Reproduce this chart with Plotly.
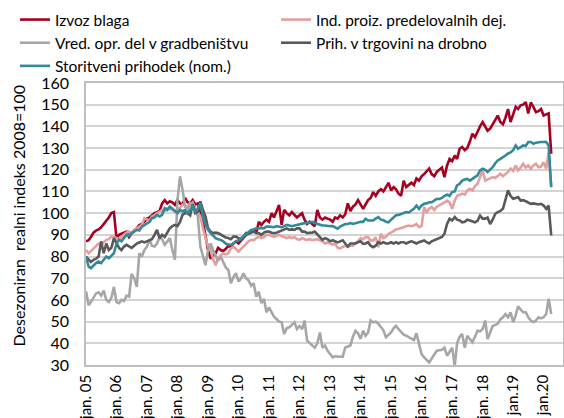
import pandas as pd
import plotly.graph_objects as go

dates = pd.date_range("2005-01-01", periods=184, freq="MS")

izvoz_blaga = [
    87, 87.5, 89, 91, 92, 92.5, 93.5, 95, 96, 98, 100, 100.5,
    88.5, 90, 90.5, 91, 91.5, 89, 90.5, 92, 93, 94.5, 95, 96,
    97.5, 98, 99, 100, 100.5, 101, 104.5, 106, 104.5, 105.5, 105, 103.8,
    106, 104.5, 104, 107, 105, 104.5, 106, 104, 104.5, 101, 96, 89,
    83, 79, 80, 81.5, 84, 83, 82.5, 83.5, 85, 84.5, 86, 87,
    86, 87.5, 88.5, 90, 90.8, 92, 92.3, 91, 96, 94.6, 96, 97,
    96, 100, 98, 101, 103.8, 94.6, 101.5, 100, 99, 100.5, 99, 98,
    99, 100, 97, 95, 96, 95, 94, 101.5, 98, 97, 98, 97.5,
    97, 96, 98, 97.5, 99, 98, 99.5, 104.5, 101, 103, 104, 106,
    104, 102, 104, 106, 107, 109.7, 108, 110, 111, 110, 112, 114,
    110.5, 112, 111, 109, 108, 115, 112, 113, 114, 113, 116, 115,
    117, 118, 119, 120.5, 118, 117, 119, 120, 121, 116.6, 122, 125,
    124, 126.6, 125, 129.7, 130.5, 129, 130, 133, 136.6, 135, 138, 140,
    142, 140, 138, 139, 141, 143, 145, 142, 141, 144, 148, 142,
    146, 149, 148, 149.7, 150, 151.2, 146, 151, 149, 146.6, 147, 148,
    145, 145.5, 146, 127.4,
]

ind_proiz = [
    83, 81.5, 82.5, 83.8, 85, 86, 85.5, 86.5, 87.7, 88, 89.2, 89,
    88.5, 88, 89, 90, 91, 91.5, 90.5, 92, 93, 94, 94.6, 97.7,
    97, 96.5, 98.5, 99, 100, 100.5, 101.5, 101, 102.3, 102, 101.5, 100.8,
    101.5, 102.5, 104, 103.5, 103, 104.6, 103.5, 102.3, 100, 98.5, 93, 89.2,
    84.6, 83, 79, 76, 79.2, 80.5, 81.5, 81, 81.5, 83.8, 84.6, 83.5,
    82.3, 83.5, 84.6, 86, 87, 87.7, 87.5, 88.5, 89.2, 88.5, 89, 90,
    90, 89.5, 89.2, 89.5, 90, 89.5, 89, 88.5, 89, 88.5, 89, 88,
    87.7, 88.5, 88, 87.7, 88, 87.5, 87.7, 88, 87.5, 87, 86, 86.5,
    86, 85.5, 86, 84, 83.8, 84.5, 85, 84.5, 85, 85, 86, 87,
    88.5, 88, 89, 88.9, 87.4, 87.4, 88.9, 84.3, 90.5, 88.5, 89, 90.5,
    91, 92, 92.5, 92.8, 93, 93.5, 94, 94.3, 94, 94.3, 95, 93.5,
    94, 102.8, 100.5, 102, 102.8, 101.5, 103, 103.5, 104.3, 105, 105.8, 105,
    102, 105.8, 108, 108.5, 109, 108.5, 110.5, 111.2, 110.5, 112.5, 113.5, 116.6,
    119.7, 115, 115.5, 115.8, 116.6, 116.2, 117, 118.2, 117, 118, 119, 120.5,
    119.5, 122, 119.7, 121, 122.8, 121, 122, 120.5, 122, 122.8, 121.2, 121.5,
    123.5, 120.5, 128, 112,
]

vred_gradb = [
    64, 57.5, 59, 61, 63, 63.5, 62, 64.3, 60, 59, 61, 66,
    59, 58.5, 60, 59.5, 62, 61.5, 72, 70, 66, 81.5, 80, 83,
    84.6, 87.7, 85, 84.6, 86, 89, 88, 85.4, 87, 88.5, 83, 78.5,
    106, 117, 110.8, 103, 102, 104, 105, 101.5, 98.5, 84.6, 80, 76,
    83, 86, 83, 80.5, 78, 80, 77.7, 75, 73.8, 67.7, 70.5, 72.3,
    68.5, 70, 72.3, 70, 69, 66.5, 67.7, 61.5, 63.8, 58.5, 60.5, 54.3,
    56.6, 54.6, 52.3, 51.2, 50, 49.7, 44.3, 47, 47.4, 48.5, 49.7, 46.6,
    48, 46.5, 50.5, 41.2, 40, 39, 38, 40, 45, 38, 39, 36.6,
    35, 33.5, 34, 33.8, 33.8, 33.8, 38, 38.5, 39, 43, 45.8, 44.6,
    42, 45.8, 43.5, 45, 50.5, 49.7, 50, 49, 47.4, 46, 42.8, 44,
    45, 47, 48, 46.5, 45, 44, 43.5, 42.8, 42, 41.5, 44.6, 40.5,
    35, 33.5, 32.5, 31.2, 33, 35, 36.6, 36.8, 37, 38, 34.3, 36,
    38, 29.7, 40, 43, 44.3, 38, 43.5, 42, 40.5, 43, 45.8, 45.5,
    46.6, 50.5, 42, 45, 48, 48.5, 49, 51, 52, 53.5, 52, 54.3,
    49.7, 53, 57, 55.5, 54.3, 54.3, 52, 50.5, 49.7, 50.5, 52, 51.5,
    52, 53.5, 60.5, 53.5,
]

prih_trgovina = [
    80, 78.5, 77.5, 78.5, 79, 80, 87, 81.5, 86, 83, 84, 88.5,
    86, 84, 83, 84.6, 85.4, 84.5, 84, 85, 86, 86.5, 87, 86.5,
    87, 87.7, 88, 90, 92.3, 88.5, 90, 89, 91, 93, 94, 94.6,
    94, 96, 99.2, 100, 100, 99, 104, 100, 100.8, 105.4, 101.5, 98.5,
    93, 91.5, 90.8, 91, 90.8, 90, 89.2, 88.8, 88.5, 88, 89.2, 89.2,
    88.5, 87.7, 89, 90.8, 90.5, 91, 91.5, 90.8, 90.8, 90, 91, 91.5,
    91.5, 91, 90.8, 91, 91.5, 92, 92.5, 93, 92.3, 92.5, 92.3, 93,
    93, 91.5, 91.5, 90.8, 91, 91, 91.5, 90, 89, 87.7, 88.5, 88,
    87, 87.5, 87, 86.5, 87, 87.5, 86, 84.6, 86, 86, 86, 86.6,
    87, 85.8, 86, 86.6, 85, 84.3, 85, 86.6, 86, 86.6, 86, 86,
    86.6, 86, 86.6, 86, 86.6, 86.6, 86, 86.6, 87, 86.6, 86, 86.6,
    87, 87.4, 86.6, 86, 87, 87.5, 88.2, 88.5, 89, 90.5, 95, 97.4,
    96.6, 98.2, 97, 96.6, 95.8, 96, 97, 96.6, 96, 95.8, 96.5, 98.9,
    97.5, 97.5, 98, 95, 97, 99.7, 100.5, 101, 102, 105.8, 110.5, 108,
    106.6, 107, 107.4, 105.8, 106, 105.5, 104.8, 104.3, 104.5, 104.3, 104, 104.3,
    103.5, 102, 103.5, 89.7,
]

storitveni = [
    80, 75.4, 74.6, 76, 77, 77.7, 77, 78.5, 80, 79.2, 80.5, 81.5,
    86, 87.7, 87, 88.5, 90, 89.5, 90.8, 91.5, 92.3, 92, 93.8, 94.5,
    95.4, 96, 97.7, 98, 99.2, 98.5, 99.2, 102.3, 101.5, 103, 102, 100.8,
    100, 101.5, 100.8, 101.5, 100, 101.5, 103, 100.8, 102, 104.6, 98.5, 95,
    92.3, 90.8, 89.5, 88.5, 88, 87.7, 87, 86, 85.5, 85.4, 86, 87,
    87.5, 88.5, 89.2, 90, 91, 92.3, 92.5, 93, 93, 93.2, 93, 93.8,
    93.8, 93.8, 93.5, 94, 93.8, 93.5, 94, 94.6, 94.3, 94, 94.3, 94.6,
    94.6, 95, 95.4, 95.4, 95.8, 96, 95.5, 95, 94.6, 94.3, 94.3, 94,
    94, 94, 93.5, 92.8, 93.8, 94.6, 95, 95, 95.4, 95, 95.4, 95.8,
    96, 96, 97.4, 96.6, 96.6, 96.6, 97.5, 98.2, 97, 96.8, 96, 95.8,
    97, 98, 99, 99.2, 99.7, 100, 100.5, 100.3, 101, 102, 103.5, 102,
    103.5, 104.3, 104.5, 105, 105, 105.8, 106.6, 106.5, 107, 108, 108.5, 108,
    109.7, 110, 112.8, 113.5, 115, 115.5, 115.8, 115, 116, 116.6, 117.4, 119.7,
    120.5, 120, 119, 120, 121.2, 123, 124.3, 125, 126, 126.6, 127.5, 128,
    129, 131.2, 129.7, 130.5, 131.2, 131, 132.8, 132.8, 132, 132.5, 132.8, 132.8,
    132.8, 132.8, 131.2, 112,
]

tick_dates = pd.date_range("2005-01-01", "2020-01-01", freq="YS")
tick_labels = ["jan. %02d" % (d.year % 100) for d in tick_dates[:-2]] + ["jan.19", "jan.20"]

series_names = ["Izvoz blaga", "Ind. proiz. predelovalnih dej.",
                "Vred. opr. del v gradbeništvu", "Prih. v trgovini na drobno",
                "Storitveni prihodek (nom.)"]
series_values = [izvoz_blaga, ind_proiz, vred_gradb, prih_trgovina, storitveni]
series_colors = ["#A50021", "#E39E9E", "#A6A6A6", "#595959", "#31899A"]
legend_column = ["legend", "legend2", "legend", "legend2", "legend"]

FONT = "Lato"

fig = go.Figure()
for name, vals, color, lg in zip(series_names, series_values, series_colors, legend_column):
    fig.add_trace(go.Scatter(x=dates, y=vals, mode="lines", name=name, legend=lg,
                             line=dict(color=color, width=2.6)))

legend_common = dict(orientation="v", xref="container", yref="container",
                     yanchor="top", xanchor="left", font=dict(size=15.5, family=FONT),
                     itemwidth=30, tracegroupgap=0, bgcolor="rgba(0,0,0,0)",
                     borderwidth=0)

fig.update_layout(
    width=564, height=418,
    margin=dict(l=86, r=1, t=83, b=53, autoexpand=False),
    paper_bgcolor="white", plot_bgcolor="white",
    font=dict(family=FONT, size=15, color="#000000"),
    showlegend=True,
    legend=dict(legend_common, x=15 / 564, y=1 - 3 / 418),
    legend2=dict(legend_common, x=276 / 564, y=1 - 3 / 418),
    annotations=[dict(text="Desezoniran\u00a0 realni indeks 2008=100", textangle=-90,
                      xref="paper", yref="paper", x=(19 - 86) / 477, y=0.53,
                      xanchor="center", yanchor="middle", showarrow=False,
                      font=dict(size=16, family=FONT))],
)

fig.update_xaxes(
    range=[pd.Timestamp("2005-01-01"), pd.Timestamp("2020-08-20")],
    tickvals=tick_dates, ticktext=tick_labels, tickangle=-90,
    showgrid=False, showline=True, linecolor="#BFBFBF", linewidth=1.5, mirror=True,
    ticks="", tickfont=dict(size=15), automargin=False, ticklabelstandoff=2,
)
fig.update_yaxes(
    range=[30, 160], dtick=10, showgrid=True, gridcolor="#D3D3D3", gridwidth=1.5,
    showline=True, linecolor="#BFBFBF", linewidth=1.5, mirror=True,
    ticks="", tickfont=dict(size=16), automargin=False, ticklabelstandoff=12,
    zeroline=False,
)

fig.write_html("out.html", config={"displayModeBar": False},
               post_script="document.body.style.margin='0';")
